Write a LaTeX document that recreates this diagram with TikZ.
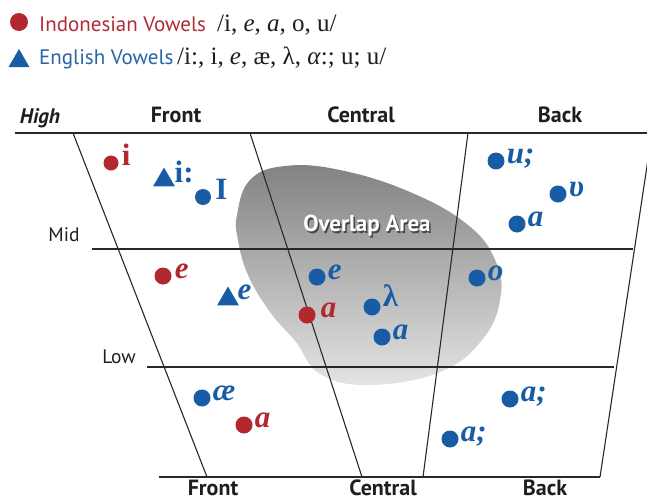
\documentclass[tikz,border=0pt]{standalone}
\usepackage{fontspec}
\setmainfont{Liberation Serif}
\newfontfamily\lsans{PT Sans}
\usetikzlibrary{shapes.geometric,calc}
\definecolor{vred}{RGB}{178,40,46}
\definecolor{vblue}{RGB}{24,92,166}
\definecolor{lred}{RGB}{176,44,54}
\definecolor{lblue}{RGB}{40,100,168}
\definecolor{lineg}{RGB}{40,40,40}
\definecolor{labg}{RGB}{30,30,30}
\tikzset{
  vdot/.style={circle,fill=#1,inner sep=0pt,minimum size=17pt},
  vtri/.style={regular polygon,regular polygon sides=3,fill=#1,inner sep=0pt,minimum size=25pt},
  vlab/.style={anchor=mid west,inner sep=0pt,text=#1,font=\fontsize{31}{31}\selectfont\bfseries\itshape},
  vlabu/.style={anchor=mid west,inner sep=0pt,text=#1,font=\fontsize{31}{31}\selectfont\bfseries},
  grid/.style={draw=lineg,line width=1.1pt},
  head/.style={anchor=base,inner sep=0pt,text=labg,font=\lsans\fontsize{22}{22}\selectfont\bfseries},
  side/.style={anchor=base,inner sep=0pt,text=labg,font=\lsans\fontsize{19.5}{19.5}\selectfont},
  legt/.style={anchor=base west,inner sep=0pt,font=\lsans\fontsize{21}{21}\selectfont},
  legs/.style={anchor=base west,inner sep=0pt,text=labg,font=\fontsize{25}{25}\selectfont},
}
\begin{document}
\begin{tikzpicture}[x=1pt,y=-1pt]
\useasboundingbox (0,0) rectangle (647,501);
\fill[white] (0,0) rectangle (647,501);
% legend
\node[vdot=vred,minimum size=18pt] (lg1) at (19,22) {};
\node[legt,text=lred] (lg1t) at (39,31) {Indonesian Vowels};
\node[legs] (lg1s) at (217,31) {/i, \textit{e}, \textit{a}, o, u/};
\node[vtri=vblue,minimum size=24pt] (lg2) at (19,61) {};
\node[legt,text=lblue] (lg2t) at (39,64) {English Vowels};
\node[legs] (lg2s) at (177,64) {/i:, i, \textit{e}, æ, λ, \textit{α}:; u; u/};
% overlap blob
\shade[top color={rgb,255:red,130;green,130;blue,130},bottom color={rgb,255:red,228;green,228;blue,228}]
  plot[smooth cycle,tension=0.7] coordinates {(237,215) (250,180) (285,166) (340,170) (410,192) (468,225) (496,262) (500,300) (482,340) (440,372) (370,385) (320,374) (296,342) (270,312) (248,275) (238,240)};
\node[inner sep=0pt,text=gray!55!black,font=\lsans\fontsize{23}{23}\selectfont\bfseries] at (368.5,227.5) {Overlap Area};
\node[inner sep=0pt,text=white,font=\lsans\fontsize{23}{23}\selectfont\bfseries] (ov) at (367,226) {Overlap Area};
% grid
\coordinate (t0) at (15,133); \coordinate (t1) at (647,133);
\coordinate (m0) at (92,249); \coordinate (m1) at (633,249);
\coordinate (w0) at (147,367); \coordinate (w1) at (614,367);
\coordinate (b0) at (159,477); \coordinate (b1) at (600,477);
\coordinate (d1a) at (73,133); \coordinate (d1b) at (207,477);
\coordinate (d2a) at (250,133); \coordinate (d2b) at (362,477);
\coordinate (d3a) at (468,133); \coordinate (d3b) at (423,477);
\coordinate (d4a) at (652,133); \coordinate (d4b) at (600,477);
\draw[grid,line width=2pt] (t0) -- (t1);
\draw[grid] (m0) -- (m1);
\draw[grid] (w0) -- (w1);
\draw[grid] (b0) -- (b1);
\draw[grid] (d1a) -- (d1b);
\draw[grid] (d2a) -- (d2b);
\draw[grid] (d3a) -- (d3b);
\draw[grid] (d4a) -- (d4b);
% labels
\node[head,font=\lsans\fontsize{21}{21}\selectfont\bfseries\itshape] (hh) at (40,123) {High};
\node[head] (hf) at (176,122) {Front};
\node[head] (hc) at (361,122) {Central};
\node[head] (hb) at (560,122) {Back};
\node[side] (hm) at (64,241) {Mid};
\node[side] (hl) at (119,363) {Low};
\node[head] (bf) at (213,495) {Front};
\node[head] (bc) at (383,495) {Central};
\node[head] (bb) at (545,495) {Back};
% vowels
\node[vdot=vred,minimum size=15pt] (v1) at (111,163) {};
\node[vlabu=vred] at ($(v1.east)+(3,0)$) {i};
\node[vtri=vblue] (v2) at (164,180) {};
\node[vlabu=vblue] at ($(v2.east)+(3,0)$) {i:};
\node[vdot=vblue,minimum size=16pt] (v3) at (203,197) {};
\node[vlabu=vblue] at ($(v3.east)+(4,0)$) {I};
\node[vdot=vblue] (v4) at (496,161) {};
\node[vlab=vblue] at ($(v4.east)+(2,0)$) {u;};
\node[vdot=vblue] (v5) at (558,194) {};
\node[vlab=vblue] at ($(v5.east)+(2,0)$) {υ};
\node[vdot=vblue] (v6) at (517,224) {};
\node[vlab=vblue] at ($(v6.east)+(2,0)$) {a};
\node[vdot=vred] (v7) at (163,276) {};
\node[vlab=vred] at ($(v7.east)+(3,0)$) {e};
\node[vtri=vblue] (v8) at (228,299) {};
\node[vlab=vblue] at ($(v8.east)+(2,-2)$) {e};
\node[vdot=vblue] (v9) at (317,277) {};
\node[vlab=vblue] at ($(v9.east)+(2,0)$) {e};
\node[vdot=vred] (v10) at (307,315) {};
\node[vlab=vred] at ($(v10.east)+(5,0)$) {a};
\node[vdot=vblue] (v11) at (372,307) {};
\node[vlabu=vblue] at ($(v11.east)+(2,-3)$) {λ};
\node[vdot=vblue] (v12) at (382,337) {};
\node[vlab=vblue] at ($(v12.east)+(2,0)$) {a};
\node[vdot=vblue] (v13) at (477,278) {};
\node[vlab=vblue] at ($(v13.east)+(2,0)$) {o};
\node[vdot=vblue] (v14) at (202,398) {};
\node[vlab=vblue] at ($(v14.east)+(2,0)$) {æ};
\node[vdot=vred] (v15) at (244,425) {};
\node[vlab=vred] at ($(v15.east)+(2,0)$) {a};
\node[vdot=vblue] (v16) at (510,399) {};
\node[vlab=vblue] at ($(v16.east)+(2,0)$) {a;};
\node[vdot=vblue] (v17) at (450,439) {};
\node[vlab=vblue] at ($(v17.east)+(2,0)$) {a;};
\end{tikzpicture}
\end{document}
